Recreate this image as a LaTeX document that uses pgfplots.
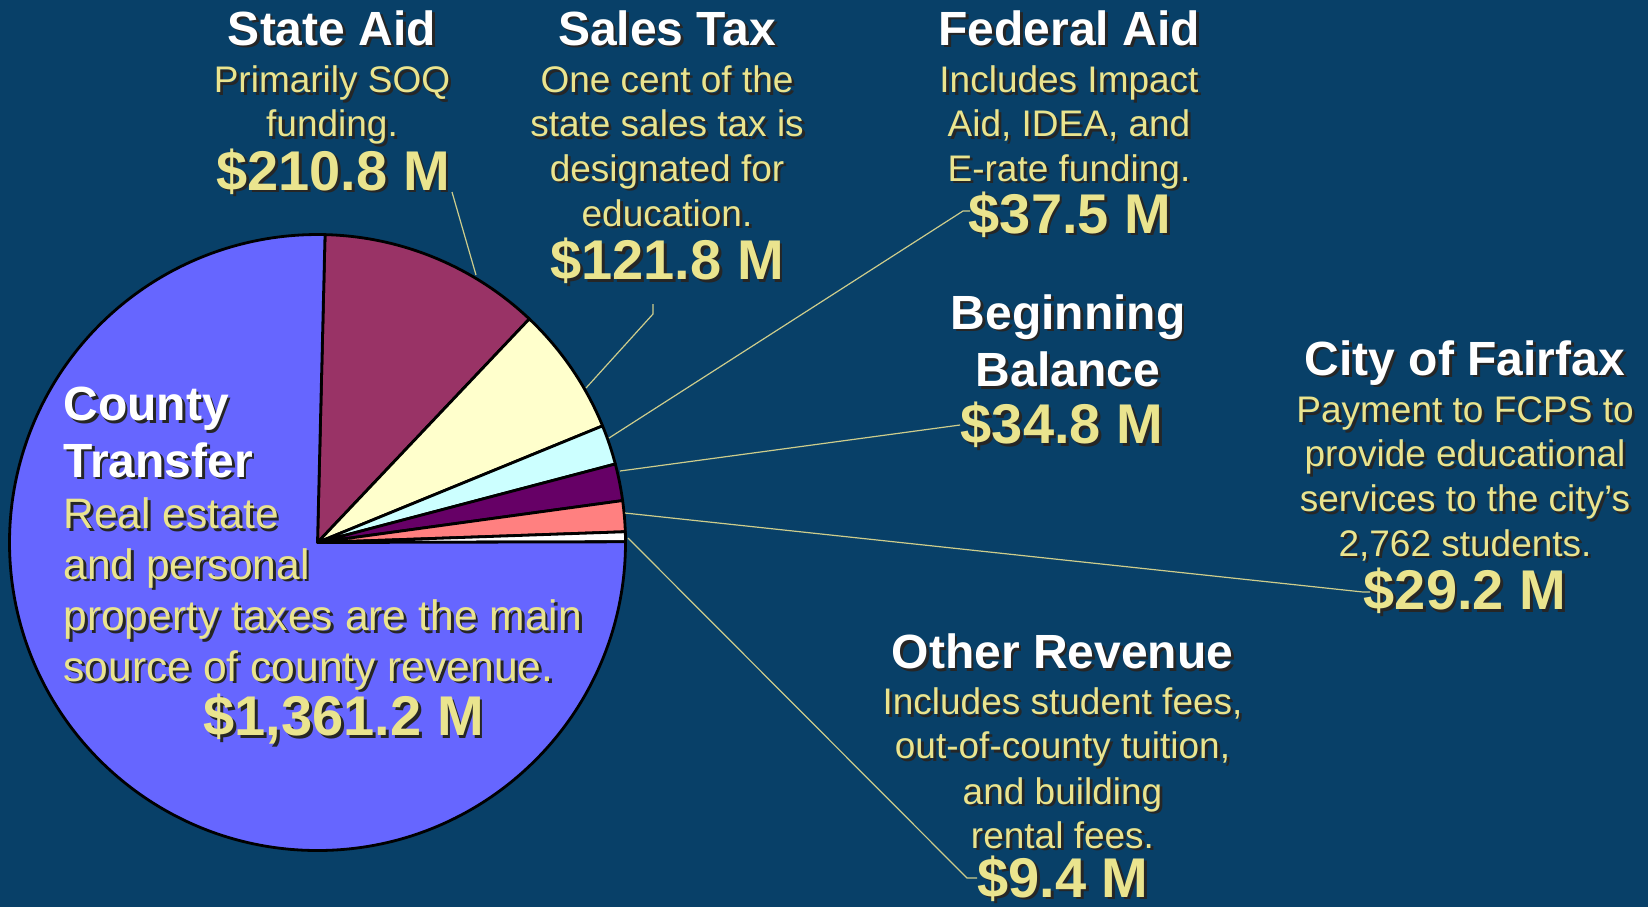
\documentclass[border=0pt]{standalone}
\usepackage{pgfplots}
\pgfplotsset{compat=1.18}
\usepackage{pgfplotstable}
\usepackage{fontspec}
\setmainfont{Liberation Sans}

\definecolor{bg}{RGB}{8,64,104}
\definecolor{txtyel}{RGB}{234,228,142}
\definecolor{leader}{RGB}{205,205,140}
\definecolor{StateAid}{HTML}{993366}
\definecolor{SalesTax}{HTML}{FFFFCC}
\definecolor{FederalAid}{HTML}{CCFFFF}
\definecolor{BeginningBalance}{HTML}{660066}
\definecolor{CityOfFairfax}{HTML}{FF8080}
\definecolor{OtherRevenue}{HTML}{FFFFFF}
\definecolor{CountyTransfer}{HTML}{6666FF}

% revenue in $ millions, clockwise from 12 o'clock
\pgfplotstableread{
name value
StateAid 210.8
SalesTax 121.8
FederalAid 37.5
BeginningBalance 34.8
CityOfFairfax 29.2
OtherRevenue 9.4
CountyTransfer 1361.2
}\revenue

\newcommand\ttl{\fontsize{24}{28}\selectfont\bfseries}
\newcommand\dsc{\fontsize{18.5}{22}\selectfont}
\newcommand\cdsc{\fontsize{21.3}{25}\selectfont}
\newcommand\amt{\fontsize{28}{33}\selectfont\bfseries}

% text with drop shadow: [anchor]{x}{y}{font}{colour}{text}
\newcommand\txt[6][base]{%
  \node[anchor=#1,inner sep=0pt,text=black!85,xshift=1.4pt,yshift=-1.4pt] at (axis cs:#2,#3) {#4#6};
  \node[anchor=#1,inner sep=0pt,text=#5] at (axis cs:#2,#3) {#4#6};}

\begin{document}
\begin{tikzpicture}
\begin{axis}[
  scale only axis, width=824pt, height=453.5pt,
  xmin=0, xmax=1648, ymin=0, ymax=907, y dir=reverse,
  hide axis, clip=false]
\fill[bg] (axis cs:0,0) rectangle (axis cs:1648,907);
\coordinate (tl) at (axis cs:0,0);
\coordinate (br) at (axis cs:1648,907);

\pgfplotsextra{
  \pgfplotstablegetrowsof{\revenue}
  \pgfmathtruncatemacro\nrows{\pgfplotsretval-1}
  \xdef\total{0}
  \foreach \i in {0,...,\nrows}{
    \pgfplotstablegetelem{\i}{value}\of\revenue
    \pgfmathsetmacro\tmpsum{\total+\pgfplotsretval}\xdef\total{\tmpsum}}
  \xdef\cur{88.6}
  \foreach \i in {0,...,\nrows}{
    \pgfplotstablegetelem{\i}{name}\of\revenue \edef\cname{\pgfplotsretval}
    \pgfplotstablegetelem{\i}{value}\of\revenue
    \pgfmathsetmacro\nxt{\cur-360*(\pgfplotsretval/\total)}
    \filldraw[fill=\cname,draw=black,line width=1.4pt,line join=round]
      (axis cs:317.5,542.5) -- ++(\cur:154pt)
      arc[start angle=\cur,end angle=\nxt,radius=154pt] -- cycle;
    \xdef\cur{\nxt}}
}

% leader lines
\draw[leader,line width=0.6pt] (axis cs:452,192) -- (axis cs:476,275);
\draw[leader,line width=0.6pt] (axis cs:653,304) -- (axis cs:653,314) -- (axis cs:586,388);
\draw[leader,line width=0.6pt] (axis cs:970,211) -- (axis cs:963,211) -- (axis cs:609,438);
\draw[leader,line width=0.6pt] (axis cs:960,425) -- (axis cs:620,471);
\draw[leader,line width=0.6pt] (axis cs:1370,592) -- (axis cs:1363,592) -- (axis cs:625,513);
\draw[leader,line width=0.6pt] (axis cs:977,878) -- (axis cs:967,878) -- (axis cs:628,538);

% State Aid
\txt{332}{45}{\ttl}{white}{State Aid}
\txt{332}{92.5}{\dsc}{txtyel}{Primarily SOQ}
\txt{332}{136.6}{\dsc}{txtyel}{funding.}
\txt{333}{190}{\amt}{txtyel}{\$210.8 M}
% Sales Tax
\txt{667}{45}{\ttl}{white}{Sales Tax}
\txt{667}{92.5}{\dsc}{txtyel}{One cent of the}
\txt{667}{136.6}{\dsc}{txtyel}{state sales tax is}
\txt{667}{181}{\dsc}{txtyel}{designated for}
\txt{667}{226}{\dsc}{txtyel}{education.}
\txt{667}{279.5}{\amt}{txtyel}{\$121.8 M}
% Federal Aid
\txt{1069}{45}{\ttl}{white}{Federal Aid}
\txt{1069}{92.5}{\dsc}{txtyel}{Includes Impact}
\txt{1069}{136.6}{\dsc}{txtyel}{Aid, IDEA, and}
\txt{1069}{181}{\dsc}{txtyel}{E-rate funding.}
\txt{1070}{233}{\amt}{txtyel}{\$37.5 M}
% Beginning Balance
\txt{1068}{329}{\ttl}{white}{Beginning}
\txt{1068}{386.5}{\ttl}{white}{Balance}
\txt{1062}{443.5}{\amt}{txtyel}{\$34.8 M}
% City of Fairfax
\txt{1465}{375}{\ttl}{white}{City of Fairfax}
\txt{1465}{422.5}{\dsc}{txtyel}{Payment to FCPS to}
\txt{1465}{466.6}{\dsc}{txtyel}{provide educational}
\txt{1465}{511.5}{\dsc}{txtyel}{services to the city’s}
\txt{1465}{556}{\dsc}{txtyel}{2,762 students.}
\txt{1465}{609.5}{\amt}{txtyel}{\$29.2 M}
% Other Revenue
\txt{1062.5}{668.5}{\ttl}{white}{Other Revenue}
\txt{1062.5}{714.5}{\dsc}{txtyel}{Includes student fees,}
\txt{1062.5}{758.8}{\dsc}{txtyel}{out-of-county tuition,}
\txt{1062.5}{804}{\dsc}{txtyel}{and building}
\txt{1062.5}{848}{\dsc}{txtyel}{rental fees.}
\txt{1063}{897}{\amt}{txtyel}{\$9.4 M}
% County Transfer
\txt[base west]{63}{420.5}{\ttl}{white}{County}
\txt[base west]{63}{477}{\ttl}{white}{Transfer}
\txt[base west]{63}{528.7}{\cdsc}{txtyel}{Real estate}
\txt[base west]{63}{579}{\cdsc}{txtyel}{and personal}
\txt[base west]{63}{630.5}{\cdsc}{txtyel}{property taxes are the main}
\txt[base west]{63}{681}{\cdsc}{txtyel}{source of county revenue.}
\txt{343.7}{735.5}{\amt}{txtyel}{\$1,361.2 M}
\end{axis}
\pgfresetboundingbox
\useasboundingbox (tl) rectangle (br);
\end{tikzpicture}
\end{document}
